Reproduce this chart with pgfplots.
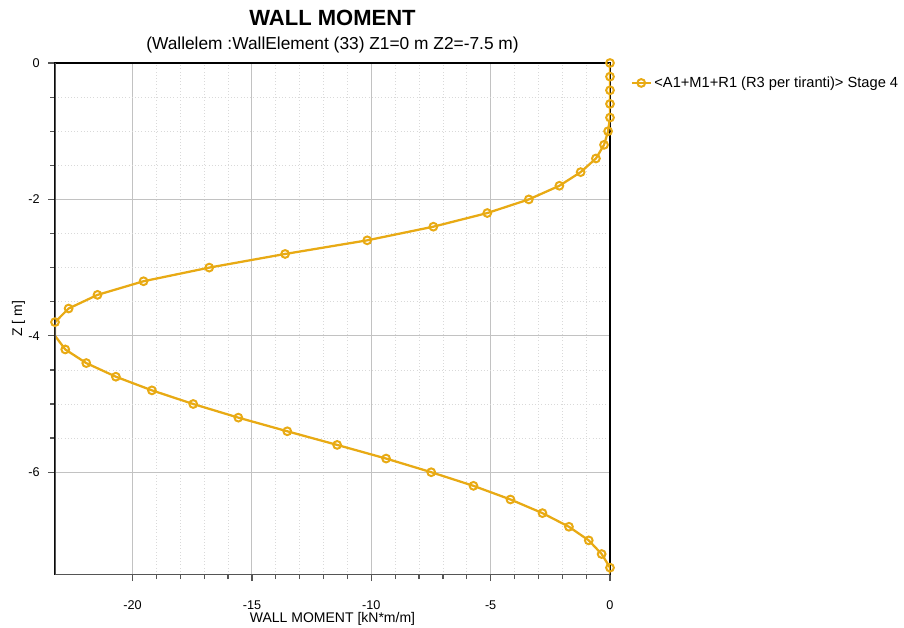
\documentclass[border=0pt]{standalone}
\usepackage{fontspec}
\setmainfont{Liberation Sans}
\usepackage{pgfplots}
\pgfplotsset{compat=1.18}
\definecolor{wm}{RGB}{232,170,20}
\definecolor{axgray}{RGB}{85,85,85}
\begin{document}
\begin{tikzpicture}
\useasboundingbox (-41.25pt,-40.125pt) rectangle (636.75pt,430.875pt);
\begin{axis}[
  name=ax,
  at={(0,0)}, anchor=south west,
  scale only axis,
  width=416.25pt, height=383.625pt,
  xmin=-23.25, xmax=0,
  ymin=-7.5, ymax=0,
  xtick={-20,-15,-10,-5,0},
  ytick={0,-2,-4,-6},
  minor x tick num=4,
  minor y tick num=3,
  tick pos=left,
  tick align=outside,
  major tick length=5pt,
  minor tick length=3.5pt,
  every tick/.style={axgray, line width=0.9pt},
  grid=both,
  major grid style={draw=black!24, line width=0.7pt},
  minor grid style={draw=black!15, dotted, line width=0.6pt},
  axis line style={black, line width=1pt},
  /pgf/number format/assume math mode=true,
  ticklabel style={font=\fontsize{9.5}{11}\selectfont},
  xticklabel style={yshift=-11pt},
  yticklabel style={xshift=-3pt},
  xlabel={WALL MOMENT [kN*m/m]},
  ylabel={Z [ m]},
  label style={font=\fontsize{10.5}{12}\selectfont},
  xlabel style={at={(axis description cs:0.5,0)}, anchor=north, yshift=-25pt},
  ylabel style={at={(axis description cs:0,0.5)}, anchor=south, yshift=19pt},
  legend style={draw=none, fill=none, at={(axis description cs:1.037,0.961)}, anchor=west,
    font=\fontsize{11}{13}\selectfont, inner sep=0pt},
  legend cell align=left,
  legend image code/.code={
    \draw[#1, mark=none] (0pt,0pt) -- (14pt,0pt);
    \draw[#1, only marks] plot coordinates {(7pt,0pt)};
  },
  clip=true,
]
\addplot[wm, line width=1.7pt, mark=o, mark size=2.9pt,
  mark options={draw=wm, fill=white, line width=1.5pt, solid},
  mark indices={1,2,3,4,5,6,7,8,9,10,11,12,13,14,15,16,17,18,19,20,22,23,24,25,26,27,28,29,30,31,32,33,34,35,36,37,38}]
coordinates {
(0,0) (0,-0.2) (0,-0.4) (0,-0.6) (0,-0.8) (-0.08,-1.0) (-0.25,-1.2) (-0.59,-1.4)
(-1.23,-1.6) (-2.12,-1.8) (-3.40,-2.0) (-5.14,-2.2) (-7.40,-2.4) (-10.17,-2.6)
(-13.61,-2.8) (-16.79,-3.0) (-19.54,-3.2) (-21.47,-3.4) (-22.68,-3.6) (-23.25,-3.8)
(-23.25,-4.0) (-22.82,-4.2) (-21.94,-4.4) (-20.70,-4.6) (-19.19,-4.8) (-17.46,-5.0)
(-15.57,-5.2) (-13.52,-5.4) (-11.43,-5.6) (-9.38,-5.8) (-7.49,-6.0) (-5.72,-6.2)
(-4.17,-6.4) (-2.83,-6.6) (-1.72,-6.8) (-0.89,-7.0) (-0.35,-7.2) (0,-7.4) (0,-7.5)
};
\addlegendentry{<A1+M1+R1 (R3 per tiranti)> Stage 4}
\draw[axgray, line width=1.3pt] (rel axis cs:0,1) -- (rel axis cs:0,0) -- (rel axis cs:1,0);
\end{axis}
\node[font=\bfseries\fontsize{16.5}{20}\selectfont] at ([yshift=34pt]ax.north) {WALL MOMENT};
\node[font=\fontsize{13}{15}\selectfont] at ([yshift=13.5pt]ax.north) {(Wallelem :WallElement (33) Z1=0 m Z2=-7.5 m)};
\end{tikzpicture}
\end{document}
